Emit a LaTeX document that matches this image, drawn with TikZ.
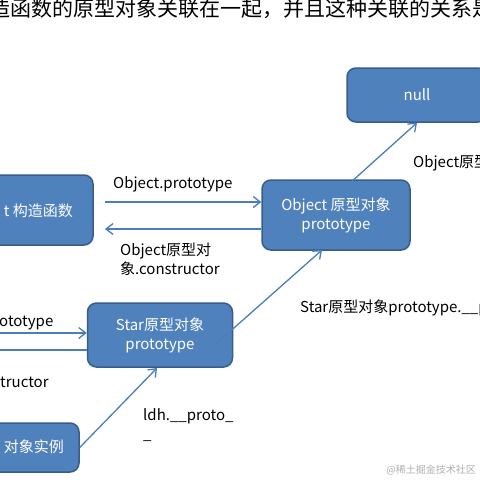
\documentclass[tikz,border=0pt]{standalone}
\usepackage{fontspec}
\setmainfont{Noto Sans CJK SC}
\usetikzlibrary{arrows.meta}
\definecolor{boxfill}{HTML}{4F81BD}
\definecolor{boxline}{HTML}{385D8A}
\definecolor{arr}{HTML}{4A7EBB}
\definecolor{wm}{HTML}{B0B0B0}
\begin{document}
\begin{tikzpicture}[x=1pt,y=-1pt,
  box/.style={draw=boxline,fill=boxfill,line width=1.5pt,rounded corners=9pt,text=white,font=\fontsize{15}{19}\selectfont,align=center,inner sep=0pt},
  boxtext/.style={text=white,font=\fontsize{15}{19}\selectfont,inner sep=0pt},
  lab/.style={font=\fontsize{15}{19}\selectfont,inner sep=0pt,align=left},
  link/.style={draw=arr,line width=1.3pt,-{Straight Barb[length=7pt,width=11pt,line width=1.3pt]}}]
\useasboundingbox (0,0) rectangle (480,480);
\clip (0,0) rectangle (480,480);
\fill[white] (0,0) rectangle (480,480);

% title
\node[anchor=west,inner sep=0pt,font=\fontsize{21}{25}\selectfont] (title) at (-11,9) {造函数的原型对象关联在一起，并且这种关联的关系是};

% boxes
\node[box,minimum width=140pt,minimum height=54pt] (null) at (417,95) {null};
\node[box,minimum width=150pt,minimum height=70pt] (objc) at (18,210) {};
\node[boxtext,anchor=east] (objct) at (73,211) {t 构造函数};
\node[box,minimum width=148pt,minimum height=70pt] (objp) at (336,215) {Object 原型对象\\prototype};
\node[box,minimum width=145pt,minimum height=64pt] (star) at (160,335) {Star原型对象\\prototype};
\node[box,minimum width=144pt,minimum height=49pt] (inst) at (7,447.5) {};
\node[boxtext,anchor=east] (instt) at (64,447) {对象实例};

% connectors
\coordinate (a1s) at (105,202);
\draw[link] (a1s) -- (a1s -| objp.west);
\coordinate (a2e) at (105,229);
\draw[link] (a2e -| objp.west) -- (a2e);
\coordinate (a3s) at (350,183);
\draw[link] (a3s) -- (null.south);
\coordinate (a4s) at (217,343);
\coordinate (a4e) at (322,250);
\draw[link] (a4s) -- (a4e);
\coordinate (a5s) at (-10,333);
\draw[link] (a5s) -- (a5s -| star.west);
\coordinate (a6e) at (-30,350);
\draw[link] (a6e -| star.west) -- (a6e);
\coordinate (a7e) at (157,368);
\draw[link] (inst.east) -- (a7e);

% labels
\node[lab,anchor=west] (l1) at (113,184) {Object.prototype};
\node[lab,anchor=west] (l2) at (120,259.5) {Object原型对\\象.constructor};
\node[lab,anchor=west] (l3) at (413,163) {Object原型};
\node[lab,anchor=west] (l4) at (300,308) {Star原型对象prototype.\_\_p};
\node[lab,anchor=west] (l5) at (-1,323) {ototype};
\node[lab,anchor=west] (l6) at (0,382) {tructor};
\node[lab,anchor=west] (l7) at (143,425) {ldh.\_\_proto\_\\\_};
\node[anchor=east,inner sep=0pt,text=wm,font=\fontsize{10}{12}\selectfont] (wmk) at (476,470) {@稀土掘金技术社区};
\end{tikzpicture}
\end{document}
